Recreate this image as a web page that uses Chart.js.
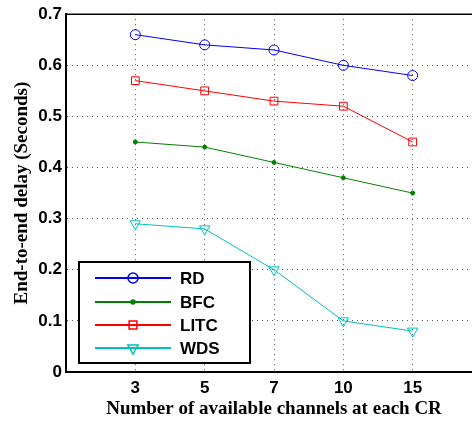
<!DOCTYPE html>
<html>
<head>
<meta charset="utf-8">
<script src="https://cdn.jsdelivr.net/npm/chart.js@4.4.0/dist/chart.umd.min.js"></script>
<style>
  html, body { margin: 0; padding: 0; background: #fff; overflow: hidden; }
  #wrap { width: 472px; height: 423px; overflow: hidden; }
</style>
</head>
<body>
<div id="wrap"><canvas id="chart" width="490" height="423"></canvas></div>
<script>
// datos
const channels = ['3', '5', '7', '10', '15'];
const yTicks = ['0', '0.1', '0.2', '0.3', '0.4', '0.5', '0.6', '0.7'];

const rd   = [0.66, 0.64, 0.63, 0.60, 0.58];
const bfc  = [0.45, 0.44, 0.41, 0.38, 0.35];
const litc = [0.57, 0.55, 0.53, 0.52, 0.45];
const wds  = [0.29, 0.28, 0.20, 0.10, 0.08];

// posicion de cada categoria en el eje (1 unidad de margen a cada lado)
function toPoints(values) {
    return values.map((v, i) => ({ x: i + 2, y: v }));
}

function serie(label, values, color, style, radius, rotation) {
    return {
        label: label,
        data: toPoints(values),
        borderColor: color,
        backgroundColor: color,
        borderWidth: 1,
        pointStyle: style,
        pointRadius: radius,
        pointRotation: rotation || 0,
        pointBorderColor: color,
        pointBackgroundColor: style === 'circle' && radius < 3 ? color : 'rgba(0,0,0,0)',
        pointBorderWidth: 1,
        tension: 0
    };
}

// leyenda dibujada a mano dentro del area
const legendBox = {
    id: 'legendBox',
    afterDraw(chart) {
        const ctx = chart.ctx;
        const area = chart.chartArea;
        ctx.save();
        // marco superior del area
        ctx.strokeStyle = '#000';
        ctx.lineWidth = 1.5;
        ctx.beginPath();
        ctx.moveTo(area.left, area.top);
        ctx.lineTo(area.right, area.top);
        ctx.lineTo(area.right, area.bottom);
        ctx.stroke();

        ctx.fillStyle = '#fff';
        ctx.fillRect(79, 262, 171, 101);
        ctx.lineWidth = 2;
        ctx.strokeRect(79, 262, 171, 101);

        const rows = [278, 302, 325, 348];
        chart.data.datasets.forEach((ds, i) => {
            const y = rows[i];
            ctx.strokeStyle = ds.borderColor;
            ctx.lineWidth = 2;
            ctx.beginPath();
            ctx.moveTo(95, y);
            ctx.lineTo(171, y);
            ctx.stroke();
            ctx.fillStyle = ds.pointBackgroundColor;
            ctx.strokeStyle = ds.borderColor;
            ctx.lineWidth = 1.5;
            Chart.helpers.drawPoint(ctx, {
                pointStyle: ds.pointStyle,
                radius: ds.pointRadius,
                rotation: ds.pointRotation,
                borderWidth: 1.5
            }, 133, y);
            ctx.fillStyle = '#000';
            ctx.font = 'bold 17px "Liberation Sans", Arial, sans-serif';
            ctx.textBaseline = 'middle';
            ctx.textAlign = 'left';
            ctx.fillText(ds.label, 180, y + 1);
        });
        ctx.restore();
    }
};

const tickFont = { family: '"Liberation Sans", Arial, sans-serif', size: 17, weight: 'bold' };
const titleFont = { family: '"Liberation Serif", "Times New Roman", serif', size: 19, weight: 'bold' };

new Chart(document.getElementById('chart').getContext('2d'), {
    type: 'line',
    data: {
        datasets: [
            serie('RD', rd, '#0000ff', 'circle', 5),
            serie('BFC', bfc, '#008000', 'circle', 2),
            serie('LITC', litc, '#ff0000', 'rect', 5.5),
            serie('WDS', wds, '#00bfbf', 'triangle', 6, 180)
        ]
    },
    options: {
        responsive: false,
        animation: false,
        layout: { padding: { top: 12, right: 8, left: 0, bottom: 0 } },
        plugins: { legend: { display: false }, tooltip: { enabled: false } },
        scales: {
            x: {
                type: 'linear',
                min: 1,
                max: 7,
                afterFit: (scale) => { scale.height = 51; },
                ticks: {
                    stepSize: 1,
                    color: '#000',
                    font: tickFont,
                    padding: 6,
                    maxRotation: 0,
                    callback: (v) => channels[v - 2] || ''
                },
                grid: { color: '#555', lineWidth: 1, drawTicks: false },
                border: { display: true, color: '#000', width: 2, dash: [1, 4] },
                title: {
                    display: true,
                    text: 'Number of available channels at each CR',
                    color: '#000',
                    font: titleFont,
                    padding: { top: 0, bottom: 3 }
                }
            },
            y: {
                min: 0,
                max: 0.7,
                afterFit: (scale) => { scale.width = 66; },
                ticks: {
                    stepSize: 0.1,
                    color: '#000',
                    font: tickFont,
                    padding: 4,
                    callback: (v) => yTicks[Math.round(v * 10)]
                },
                grid: { color: '#555', lineWidth: 1, drawTicks: false },
                border: { display: true, color: '#000', width: 2, dash: [1, 4] },
                title: {
                    display: true,
                    text: 'End-to-end delay (Seconds)',
                    color: '#000',
                    font: titleFont,
                    padding: { top: 11, bottom: 0 }
                }
            }
        }
    },
    plugins: [legendBox]
});
</script>
</body>
</html>
